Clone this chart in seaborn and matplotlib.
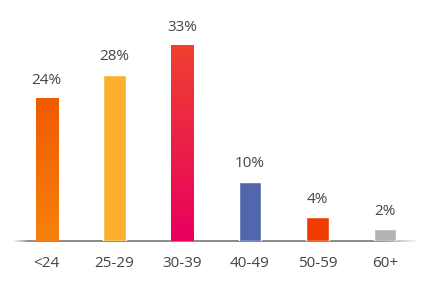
import matplotlib
matplotlib.use("Agg")
import matplotlib.pyplot as plt
import seaborn as sns
import numpy as np
import pandas as pd
from matplotlib.colors import LinearSegmentedColormap, to_rgba
from matplotlib.collections import LineCollection

categories = ["<24", "25-29", "30-39", "40-49", "50-59", "60+"]
values = [24, 28, 33, 10, 4, 2]
labels = ["24%", "28%", "33%", "10%", "4%", "2%"]
colors = ["#f36a00", "#fbb030", "#ec2a48", "#5166ab", "#f03c02", "#b3b3b0"]
gradients = {0: ("#f7820a", "#f05a00"), 2: ("#e8005e", "#ef4030")}

sns.set_theme(style="white")
plt.rcParams["font.family"] = ["Open Sans", "DejaVu Sans"]

df = pd.DataFrame({"cat": categories, "val": values})
fig = plt.figure(figsize=(4.32, 3.02), dpi=100)
ax = fig.add_axes([0.03, 0.202, 0.94, 0.708])
sns.barplot(data=df, x="cat", y="val", hue="cat", palette=colors, width=0.33,
            legend=False, ax=ax, saturation=1)

for i, p in enumerate(ax.patches):
    p.set_zorder(3)
    if i in gradients:
        bot, top = gradients[i]
        cmap = LinearSegmentedColormap.from_list("g", [bot, top])
        x0, y0 = p.get_x(), p.get_y()
        w, h = p.get_width(), p.get_height()
        grad = np.linspace(0, 1, 256).reshape(-1, 1)
        im = ax.imshow(grad, cmap=cmap, origin="lower", aspect="auto",
                       extent=[x0, x0 + w, y0, y0 + h], zorder=3.1)
        im.set_clip_path(p)
    ax.annotate(labels[i], (p.get_x() + p.get_width() / 2, p.get_height()),
                xytext=(0, 7.5), textcoords="offset points", ha="center", va="bottom",
                fontsize=11, color="#444444")
ax.set_xlim(-0.5, 5.5)
ax.set_ylim(0, 36.0)

# fading baseline
n = 300
xs = np.linspace(0.0, 1.0, n + 1)
segs = [[(xs[k], 0), (xs[k + 1], 0)] for k in range(n)]
mid = (xs[:-1] + xs[1:]) / 2
alpha = np.clip(np.minimum(mid / 0.04, (1 - mid) / 0.1), 0, 1)
base = np.array(to_rgba("#8a8a8a"))
cols = np.tile(base, (n, 1))
cols[:, 3] = alpha
lc = LineCollection(segs, colors=cols, linewidths=1.4, transform=ax.transAxes,
                    zorder=2, clip_on=False)
ax.add_collection(lc)

ax.set_xlabel("")
ax.set_ylabel("")
ax.set_yticks([])
for s in ["top", "right", "left", "bottom"]:
    ax.spines[s].set_visible(False)
ax.tick_params(axis="x", length=0, pad=11, labelsize=11, labelcolor="#444444")

fig.savefig("out.png", dpi=100)
